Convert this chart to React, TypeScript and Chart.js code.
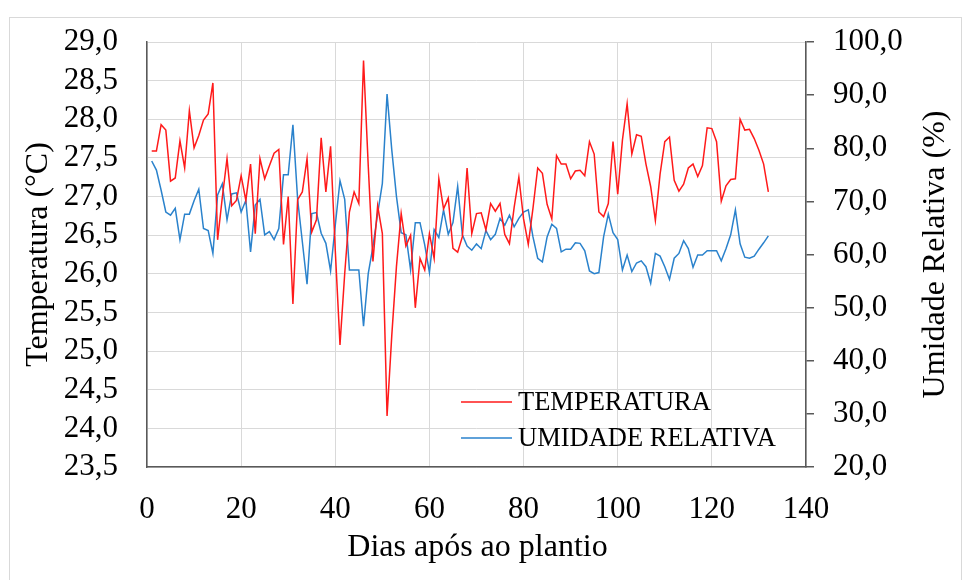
import React, { useEffect, useRef } from 'react';
import { Chart, registerables } from 'chart.js';

Chart.register(...registerables);

// Temperatura (°C) per day after planting (days 1..132)
const TEMPERATURA = [
  27.59, 27.59, 27.93, 27.86, 27.2, 27.24, 27.72, 27.37, 28.11, 27.63,
  27.79, 27.99, 28.07, 28.47, 26.44, 26.99, 27.49, 26.88, 26.95, 27.27,
  26.95, 27.42, 26.52, 27.49, 27.23, 27.4, 27.56, 27.61, 26.38, 27.0,
  25.61, 26.96, 27.06, 27.49, 26.54, 26.7, 27.76, 27.06, 27.65, 26.3,
  25.08, 26.0, 26.8, 27.06, 26.91, 28.76, 27.4, 26.16, 26.88, 26.52,
  24.16, 25.2, 26.1, 26.78, 26.36, 26.5, 25.56, 26.2, 26.05, 26.52,
  26.2, 27.23, 26.84, 26.98, 26.33, 26.28, 26.48, 27.37, 26.52, 26.78,
  26.79, 26.57, 26.91, 26.81, 26.91, 26.51, 26.39, 26.86, 27.25, 26.71,
  26.38, 26.85, 27.37, 27.3, 26.9, 26.71, 27.53, 27.42, 27.42, 27.23,
  27.33, 27.34, 27.27, 27.71, 27.55, 26.8, 26.74, 26.91, 27.71, 27.03,
  27.73, 28.2, 27.55, 27.8, 27.78, 27.42, 27.13, 26.69, 27.29, 27.71,
  27.77, 27.21, 27.07, 27.16, 27.37, 27.42, 27.26, 27.4, 27.89, 27.88,
  27.71, 26.94, 27.14, 27.22, 27.23, 28.0, 27.86, 27.87, 27.75, 27.6,
  27.42, 27.06,
];

// Umidade relativa (%) per day after planting (days 1..132)
const UMIDADE = [
  77.6, 75.9, 72.1, 68.0, 67.4, 68.7, 62.8, 67.6, 67.6, 70.1,
  72.3, 64.9, 64.5, 60.2, 71.2, 73.3, 66.5, 71.4, 71.6, 68.0,
  70.2, 60.5, 69.3, 70.4, 63.7, 64.3, 62.8, 64.9, 75.0, 75.0,
  84.4, 70.4, 62.4, 54.4, 67.7, 67.9, 64.0, 62.1, 56.9, 65.5,
  73.9, 70.4, 57.1, 57.1, 57.1, 46.5, 56.4, 61.5, 67.7, 73.4,
  90.2, 79.7, 70.9, 64.1, 63.7, 57.1, 66.0, 66.0, 61.8, 56.6,
  64.7, 63.2, 68.4, 63.8, 66.0, 72.8, 63.7, 61.6, 60.8, 62.0,
  61.1, 64.5, 62.8, 63.8, 66.8, 65.5, 67.4, 65.2, 66.8, 68.0,
  68.4, 63.3, 59.3, 58.6, 63.3, 65.7, 64.9, 60.5, 61.0, 61.0,
  62.2, 62.1, 60.7, 56.9, 56.4, 56.6, 63.3, 67.6, 64.1, 62.8,
  57.1, 59.9, 56.8, 58.4, 58.8, 57.7, 54.6, 60.2, 59.7, 57.7,
  55.3, 59.3, 60.2, 62.6, 61.1, 57.6, 59.9, 59.9, 60.7, 60.7,
  60.7, 58.8, 61.1, 63.7, 68.4, 62.0, 59.5, 59.3, 59.7, 61.0,
  62.2, 63.5,
];

const DAYS = TEMPERATURA.map((_, i) => i + 1);

const X_MIN = 0;
const X_MAX = 140;
const X_STEP = 20;
const T_MIN = 23.5;
const T_MAX = 29.0;
const T_STEP = 0.5;
const H_MIN = 20;
const H_MAX = 100;
const H_STEP = 10;

const SERIES_NAMES = ['TEMPERATURA', 'UMIDADE RELATIVA'];
const X_TITLE = 'Dias após ao plantio';
const Y_TITLE = 'Temperatura (°C)';
const Y1_TITLE = 'Umidade Relativa (%)';

const RED = '#ff1a1a';
const BLUE = '#2a82cc';
const GRID = '#d9d9d9';
const AXIS = '#595959';
const FONT = "'Liberation Serif', 'Times New Roman', serif";

const fmt = (v: number) => v.toFixed(1).replace('.', ',');

const overlayPlugin = {
  id: 'overlay',
  afterDraw(chart: any) {
    const { ctx, chartArea } = chart;
    const cy = (chartArea.top + chartArea.bottom) / 2;
    const cx = (chartArea.left + chartArea.right) / 2;
    ctx.save();
    ctx.fillStyle = '#000';
    ctx.font = `32px ${FONT}`;
    ctx.textAlign = 'center';
    ctx.textBaseline = 'middle';
    // left title
    ctx.save();
    ctx.translate(39, cy);
    ctx.rotate(-Math.PI / 2);
    ctx.fillText(Y_TITLE, 0, 0);
    ctx.restore();
    // right title
    ctx.save();
    ctx.translate(936, cy);
    ctx.rotate(-Math.PI / 2);
    ctx.fillText(Y1_TITLE, 0, 0);
    ctx.restore();
    // x title
    ctx.fillText(X_TITLE, cx + 1, 548);

    // legend
    const colors = [RED, BLUE];
    const lx0 = chartArea.left + 314;
    const lx1 = lx0 + 51;
    const rows = [chartArea.top + 360, chartArea.top + 396];
    ctx.font = `26.5px ${FONT}`;
    ctx.textAlign = 'left';
    SERIES_NAMES.forEach((name, i) => {
      ctx.strokeStyle = colors[i];
      ctx.lineWidth = 1.5;
      ctx.beginPath();
      ctx.moveTo(lx0, rows[i]);
      ctx.lineTo(lx1, rows[i]);
      ctx.stroke();
      ctx.fillText(name, lx1 + 6, rows[i] + 1);
    });
    ctx.restore();
  },
};

export default function App() {
  const ref = useRef<HTMLCanvasElement | null>(null);

  useEffect(() => {
    if (!ref.current) return;
    const chart = new Chart(ref.current, {
      type: 'line',
      data: {
        datasets: [
          {
            label: SERIES_NAMES[0],
            data: DAYS.map((d, i) => ({ x: d, y: TEMPERATURA[i] })),
            borderColor: RED,
            backgroundColor: RED,
            borderWidth: 1.5,
            pointRadius: 0,
            tension: 0,
            yAxisID: 'y',
          },
          {
            label: SERIES_NAMES[1],
            data: DAYS.map((d, i) => ({ x: d, y: UMIDADE[i] })),
            borderColor: BLUE,
            backgroundColor: BLUE,
            borderWidth: 1.5,
            pointRadius: 0,
            tension: 0,
            yAxisID: 'y1',
          },
        ],
      },
      options: {
        responsive: false,
        animation: false,
        devicePixelRatio: 1,
        layout: { padding: { top: 42, left: 0, right: 0, bottom: 0 } },
        plugins: {
          legend: { display: false },
          tooltip: { enabled: false },
        },
        scales: {
          x: {
            type: 'linear',
            min: X_MIN,
            max: X_MAX,
            ticks: {
              stepSize: X_STEP,
              color: '#000',
              font: { family: FONT, size: 31 },
              padding: 24,
              maxRotation: 0,
              autoSkip: false,
            },
            grid: { color: GRID, lineWidth: 1, drawTicks: false },
            border: { color: AXIS, width: 1.5 },
            afterFit: (s: any) => {
              s.height = 113;
              s.paddingLeft = 0;
              s.paddingRight = 0;
            },
          },
          y: {
            type: 'linear',
            position: 'left',
            min: T_MIN,
            max: T_MAX,
            ticks: {
              stepSize: T_STEP,
              color: '#000',
              font: { family: FONT, size: 31 },
              padding: 29,
              autoSkip: false,
              callback: (v: any) => fmt(Number(v)),
            },
            grid: { color: GRID, lineWidth: 1, drawTicks: false },
            border: { color: AXIS, width: 1.5 },
            afterFit: (s: any) => {
              s.width = 147;
              s.paddingTop = 0;
              s.paddingBottom = 0;
            },
          },
          y1: {
            type: 'linear',
            position: 'right',
            min: H_MIN,
            max: H_MAX,
            ticks: {
              stepSize: H_STEP,
              color: '#000',
              font: { family: FONT, size: 31 },
              padding: 19,
              autoSkip: false,
              callback: (v: any) => fmt(Number(v)),
            },
            grid: {
              drawOnChartArea: false,
              drawTicks: true,
              tickLength: 8,
              color: AXIS,
              lineWidth: 1.5,
            },
            border: { color: AXIS, width: 1.5 },
            afterFit: (s: any) => {
              s.width = 158;
              s.paddingTop = 0;
              s.paddingBottom = 0;
            },
          },
        },
      },
      plugins: [overlayPlugin],
    } as any);
    return () => chart.destroy();
  }, []);

  return (
    <div
      style={{
        position: 'fixed',
        left: 0,
        top: 0,
        width: 964,
        height: 580,
        background: '#fff',
        overflow: 'hidden',
      }}
    >
      <div
        style={{
          position: 'absolute',
          left: 9,
          top: 17,
          width: 953,
          height: 570,
          border: '1px solid #d9d9d9',
          boxSizing: 'border-box',
        }}
      />
      <canvas
        ref={ref}
        width={964}
        height={580}
        style={{ position: 'absolute', left: 0, top: 0, width: 964, height: 580 }}
      />
    </div>
  );
}
